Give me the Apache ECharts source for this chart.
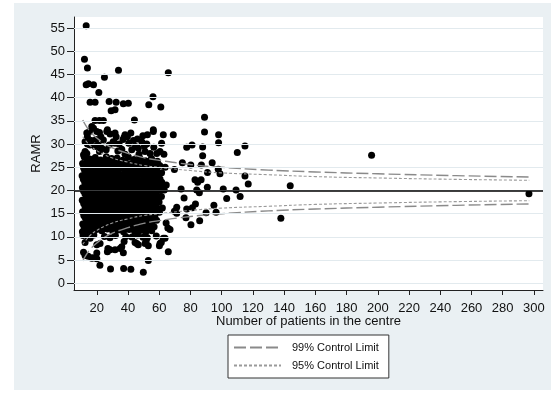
<!DOCTYPE html>
<html><head><meta charset="utf-8">
<script src="https://cdn.jsdelivr.net/npm/echarts@6/dist/echarts.min.js"></script>
<style>html,body{margin:0;padding:0;background:#fff}#c{width:558px;height:396px}</style>
</head><body><div id="c"></div>
<script>
var xTicks = [20,40,60,80,100,120,140,160,180,200,220,240,260,280,300];
var yTicks = [0,5,10,15,20,25,30,35,40,45,50,55];
var target = 20;

var limitN   = [11,13,16,20,25,30,40,50,60,80,100,130,160,200,250,297];
var upper99  = [35.2,34.0,32.6,31.3,30.1,29.2,28.0,27.1,26.5,25.6,25.0,24.4,24.0,23.6,23.2,22.9];
var lower99  = [4.8,6.0,7.4,8.7,9.9,10.8,12.0,12.9,13.5,14.4,15.0,15.6,16.0,16.4,16.8,17.1];
var upper95  = [31.6,30.7,29.6,28.6,27.7,27.0,26.1,25.4,25.0,24.3,23.8,23.4,23.0,22.7,22.4,22.2];
var lower95  = [8.4,9.3,10.4,11.4,12.3,13.0,13.9,14.6,15.0,15.7,16.2,16.6,17.0,17.3,17.6,17.8];

var highCentres = [
 [13.2,55.5],[12.1,48.3],[14.0,46.4],[13.2,42.8],[14.6,43.0],[17.9,42.8],[21.3,41.1],[24.9,44.4],
 [33.9,45.9],[65.8,45.4],[15.7,39.0],[18.9,39.0],[27.9,39.2],[32.4,39.0],[37.0,38.7],[40.2,38.8],
 [29.2,37.2],[31.7,37.4],[56.0,40.2],[53.3,38.5],[61.0,38.0],[44.1,35.2],[18.9,35.1],[21.7,35.1],
 [24.2,35.1],[16.8,33.8],[17.9,33.4],[20.0,32.7],[13.6,32.4],[15.3,32.7],[21.7,32.5],[26.4,32.7],
 [28.5,32.2],[31.7,32.4],[32.4,31.6],[38.1,32.0],[41.8,32.4],[46.0,31.1],[48.8,30.5],[52.4,32.0],
 [56.2,32.7],[52.0,30.0],[62.6,32.0],[26.8,33.1],[14.0,31.6],[22.6,31.6],[39.6,31.6],[37.5,31.5],
 [12.5,30.5],[14.0,30.0],[24.2,30.9],[21.0,29.8],[23.2,29.1],[21.7,28.4],[12.5,28.4],[15.7,29.8],
 [18.9,29.5],[26.0,28.8],[31.7,30.2],[36.0,28.9],[38.1,27.8],[42.4,28.8],[46.6,29.1],[50.9,28.4],
 [54.1,28.0],[58.4,28.0],[60.5,28.4],[30.5,30.5],[34.3,30.0],[36.8,31.0],[40.5,30.2],[43.5,30.8],
 [44.8,29.5],[49.5,31.8],[50.5,29.6],[56.5,29.3],[28.0,29.8],[33.5,28.5],[47.0,27.8],[63.0,27.8],
 [61.5,30.2],[19.5,31.0],[16.5,30.8],[13.6,28.0],[11.5,27.7]
];

var coreCentres = [
 [12.0,27.2],[15.5,26.8],[19.0,27.1],[22.4,26.6],[26.1,27.3],[29.5,26.9],[33.0,27.0],[36.6,26.5],[40.2,27.2],[43.8,26.7],[47.5,27.0],[51.1,26.4],[55.0,26.9],[58.8,26.3],
 [10.9,25.8],[13.8,25.4],[17.3,25.9],[20.8,25.5],[24.2,25.8],[27.9,25.3],[31.4,25.9],[34.8,25.6],[38.3,25.2],[42.0,25.8],[45.6,25.4],[49.3,25.9],[52.8,25.2],[56.5,25.6],[60.3,25.4],[63.8,25.0],
 [12.2,24.3],[15.6,24.7],[19.1,24.2],[22.7,24.6],[26.0,24.1],[29.6,24.5],[33.2,24.3],[36.7,24.8],[40.1,24.0],[43.7,24.5],[47.4,24.2],[51.0,24.7],[54.6,24.1],[58.3,24.4],[61.5,23.8],
 [10.6,23.2],[14.0,22.9],[17.5,23.3],[21.0,22.8],[24.4,23.2],[27.8,23.0],[31.3,23.4],[34.9,22.9],[38.5,23.3],[42.0,22.8],[45.5,23.1],[49.1,23.4],[52.7,22.8],[56.2,23.2],[59.8,22.7],
 [12.3,21.7],[15.8,22.0],[19.2,21.6],[22.6,21.9],[26.2,21.5],[29.7,21.9],[33.1,21.6],[36.5,22.1],[40.3,21.7],[43.8,21.5],[47.3,22.0],[50.8,21.6],[54.4,21.9],[57.9,21.4],[61.6,21.8],[64.5,21.2],
 [10.8,20.6],[14.1,20.3],[17.6,20.7],[21.1,20.2],[24.5,20.6],[28.0,20.4],[31.5,20.8],[35.0,20.3],[38.6,20.6],[42.1,20.2],[45.7,20.7],[49.2,20.4],[52.6,20.8],[56.1,20.3],[59.7,20.6],[63.2,20.1],
 [12.4,19.3],[15.9,18.9],[19.4,19.3],[22.8,19.0],[26.3,19.4],[29.8,18.9],[33.3,19.2],[36.8,19.5],[40.4,18.9],[43.9,19.3],[47.4,19.0],[51.0,19.4],[54.5,18.8],[58.0,19.2],[61.4,18.7],
 [10.7,17.9],[14.2,18.2],[17.7,17.7],[21.2,18.1],[24.6,17.6],[28.1,18.0],[31.6,17.8],[35.1,18.2],[38.7,17.6],[42.2,18.0],[45.8,17.7],[49.3,18.1],[52.8,17.6],[56.3,18.0],[59.9,17.5],
 [12.5,16.5],[16.0,16.8],[19.5,16.4],[23.0,16.9],[26.4,16.5],[29.9,16.7],[33.4,16.3],[36.9,16.8],[40.5,16.4],[44.0,16.7],[47.5,16.3],[51.1,16.8],[54.6,16.4],[58.1,16.6],[62.0,16.2],
 [10.9,15.4],[14.3,15.1],[17.8,15.5],[21.3,15.0],[24.7,15.4],[28.2,15.2],[31.7,15.6],[35.2,15.1],[38.8,15.4],[42.3,15.0],[45.9,15.5],[49.4,15.1],[52.9,15.4],[56.5,15.0],[60.1,15.3],
 [12.6,14.1],[16.1,13.8],[19.6,14.2],[23.1,13.9],[26.6,14.3],[30.0,13.8],[33.5,14.1],[37.0,13.7],[40.6,14.2],[44.1,13.9],[47.6,14.2],[51.2,13.7],[54.7,14.0],[58.3,13.6],
 [11.0,12.8],[14.4,12.5],[17.9,12.9],[21.4,12.4],[24.8,12.8],[28.3,12.6],[31.8,12.9],[35.3,12.4],[38.9,12.7],[42.4,12.3],[46.0,12.8],[49.5,12.5],[53.0,12.7],[56.7,12.2],
 [12.7,11.5],[16.2,11.2],[19.7,11.6],[23.2,11.3],[26.7,11.7],[30.2,11.2],[33.6,11.5],[37.1,11.1],[40.7,11.6],[44.2,11.2],[47.8,11.4],[51.3,11.0],[55.2,11.3],
 [11.2,10.3],[14.6,9.9],[18.1,10.4],[24.9,10.1],[28.4,9.8],[31.9,10.3],[42.5,10.0],[46.1,10.4],[49.6,9.9],[58.1,10.2]
];

var fillCentres = [
 [13.6,26.1],[17.2,26.1],[20.7,26.0],[24.3,26.2],[27.7,26.1],[31.2,26.0],[34.9,26.2],[38.4,26.1],[45.6,26.1],[49.2,26.0],[52.9,26.2],[56.7,26.0],
 [11.5,24.9],[14.8,24.9],[18.3,25.0],[21.9,24.8],[25.3,24.9],[28.8,25.0],[32.3,24.8],[35.9,24.9],[39.3,25.0],[42.9,24.8],[46.4,24.9],[50.1,25.0],[53.7,24.8],[57.4,24.9],
 [13.2,23.6],[16.7,23.7],[20.1,23.5],[23.6,23.6],[27.0,23.7],[30.5,23.5],[34.1,23.6],[37.6,23.7],[41.2,23.5],[44.7,23.6],[48.3,23.7],[51.8,23.5],[55.4,23.6],[58.9,23.7],
 [11.4,22.4],[15.0,22.3],[18.4,22.5],[21.8,22.4],[25.3,22.3],[28.8,22.5],[32.2,22.4],[35.7,22.3],[39.3,22.5],[42.9,22.4],[46.4,22.3],[49.9,22.5],[53.5,22.4],[57.1,22.3],[60.5,22.5],
 [13.1,21.1],[16.6,21.2],[20.1,21.0],[23.6,21.1],[27.1,21.2],[30.6,21.0],[34.0,21.1],[37.5,21.2],[41.2,21.0],[44.7,21.1],[48.2,21.2],[51.7,21.0],[55.2,21.1],[58.8,21.2],[62.3,21.0],
 [11.5,19.9],[15.0,19.8],[18.5,20.0],[22.0,19.9],[25.4,19.8],[28.9,20.0],[32.4,19.9],[35.9,19.8],[39.5,20.0],[43.0,19.9],[46.5,19.8],[50.1,20.0],[53.5,19.9],[57.1,19.8],[60.6,20.0],
 [13.3,18.6],[16.8,18.5],[20.3,18.7],[23.7,18.6],[27.2,18.5],[30.7,18.7],[34.2,18.6],[37.8,18.5],[41.3,18.7],[44.8,18.6],[48.4,18.5],[51.9,18.7],[55.4,18.6],[58.9,18.5],
 [11.6,17.2],[15.1,17.3],[18.6,17.1],[22.1,17.2],[25.5,17.3],[29.0,17.1],[32.5,17.2],[36.0,17.3],[39.6,17.1],[43.1,17.2],[46.6,17.3],[50.2,17.1],[53.7,17.2],[57.2,17.3],
 [13.4,15.9],[16.9,16.0],[20.4,15.8],[23.9,15.9],[27.3,16.0],[30.8,15.8],[34.3,15.9],[37.9,16.0],[41.4,15.8],[44.9,15.9],[48.5,16.0],[52.0,15.8],[55.5,15.9],[59.0,16.0],
 [11.7,14.6],[15.2,14.7],[18.7,14.5],[22.2,14.6],[25.6,14.7],[29.1,14.5],[32.6,14.6],[36.1,14.7],[39.7,14.5],[43.2,14.6],[46.7,14.7],[50.3,14.5],[53.8,14.6],[57.3,14.7],
 [13.5,13.3],[17.0,13.4],[20.5,13.2],[24.0,13.3],[27.4,13.4],[30.9,13.2],[34.4,13.3],[38.0,13.4],[41.5,13.2],[45.0,13.3],[48.6,13.4],[52.1,13.2],[55.6,13.3],
 [11.9,12.0],[15.3,12.1],[18.8,11.9],[22.3,12.0],[25.7,12.1],[29.2,11.9],[32.7,12.0],[36.2,12.1],[39.8,11.9],[43.3,12.0],[46.8,12.1],[50.4,11.9],[53.9,12.0]
];

var lowCentres = [
 [53.0,4.9],[49.8,2.4],[41.8,3.0],[37.2,3.2],[28.8,3.1],[22.0,3.9],[20.0,5.3],[17.5,5.5],[14.5,5.8],
 [12.5,6.0],[11.5,6.7],[26.8,6.8],[27.1,7.5],[37.0,6.6],[34.9,7.5],[46.6,8.3],[44.5,8.8],[53.0,8.1],
 [52.4,9.8],[37.5,9.0],[38.6,10.1],[22.1,8.6],[20.0,8.3],[12.5,8.8],[15.7,9.7],[12.5,10.8],[10.8,11.1],
 [51.6,9.1],[20.0,6.5],[28.5,7.2],[31.7,7.2],[36.0,7.9],[45.6,8.6],[50.9,8.6],[16.8,5.4]
];

var rightCentres = [
 [69.0,32.0],[56.2,33.1],[77.6,29.3],[81.0,29.8],[87.8,29.4],[87.8,27.5],[89.0,35.8],[89.0,32.6],
 [98.0,32.0],[98.0,30.3],[110.0,28.2],[114.9,29.6],[74.8,26.0],[80.2,25.5],[87.0,25.5],[93.9,26.0],
 [90.9,23.9],[97.8,24.6],[98.9,23.6],[114.9,23.1],[117.0,21.4],[82.9,22.3],[84.6,21.8],[86.8,22.3],
 [90.8,20.7],[74.0,20.3],[101.0,20.3],[109.2,20.1],[103.2,18.3],[111.8,18.7],[75.9,18.4],[85.7,19.5],
 [84.0,20.1],[95.0,16.8],[83.2,17.1],[81.2,16.3],[77.6,16.0],[90.0,15.2],[96.4,15.3],[85.9,13.5],
 [80.3,12.6],[77.1,14.1],[71.2,16.4],[71.2,15.1],[69.7,15.5],[66.9,11.6],[65.8,6.8],[62.6,9.7],
 [61.3,8.8],[60.1,8.1],[69.7,24.5],[64.4,13.0],[65.5,11.9],[63.7,9.7],[60.5,8.6],
 [143.9,21.0],[137.9,14.0],[196.0,27.6],[296.8,19.3]
];

var font = 'Liberation Sans, Arial, Helvetica, sans-serif';
var chart = echarts.init(document.getElementById('c'), null, {renderer: 'canvas'});

function pairs(xs, ys) { return xs.map(function (x, i) { return [x, ys[i]]; }); }
var gridLineData = yTicks.map(function (v) { return {yAxis: v}; });

var dot = {type: 'scatter', symbol: 'circle', symbolSize: 7, itemStyle: {color: '#000', opacity: 1}, silent: true, z: 2};
var l99 = {color: '#8a8a8a', width: 1.4, type: [12, 4]};
var l95 = {color: '#9a9a9a', width: 1.1, type: [3, 2]};

chart.setOption({
  animation: false,
  backgroundColor: '#fff',
  textStyle: {fontFamily: font},
  graphic: [{type: 'rect', z: -10, shape: {x: 14, y: 3, width: 537, height: 387}, style: {fill: '#eaf0f3'}}],
  grid: {left: 74, right: 15, top: 17, bottom: 106, show: true, backgroundColor: '#fff', borderWidth: 0},
  legend: {
    data: ['99% Control Limit', '95% Control Limit'],
    orient: 'vertical', left: 228, top: 335,
    itemWidth: 47, itemHeight: 12, itemGap: 7,
    itemStyle: {opacity: 0},
    backgroundColor: '#fff', borderColor: '#333', borderWidth: 1, borderRadius: 0,
    padding: [7, 10, 7, 5],
    textStyle: {fontSize: 11, color: '#111', fontFamily: font, padding: [0, 0, 0, 6]}
  },
  xAxis: {
    type: 'value', min: 5.4, max: 305.8,
    name: 'Number of patients in the centre', nameLocation: 'middle', nameGap: 25,
    nameMoveOverlap: false,
    nameTextStyle: {fontSize: 13, color: '#111', fontFamily: font},
    axisLine: {show: true, onZero: false, lineStyle: {color: '#222', width: 1}},
    axisTick: {show: true, customValues: xTicks, length: 5, lineStyle: {color: '#222'}},
    axisLabel: {customValues: xTicks, fontSize: 13, color: '#111', margin: 12, fontFamily: font},
    splitLine: {show: false}
  },
  yAxis: {
    type: 'value', min: -1.45, max: 57.4,
    name: 'RAMR', nameLocation: 'middle', nameGap: 31,
    nameMoveOverlap: false,
    nameTextStyle: {fontSize: 13, color: '#111', fontFamily: font},
    axisLine: {show: true, onZero: false, lineStyle: {color: '#222', width: 1}},
    axisTick: {show: true, customValues: yTicks, length: 7, lineStyle: {color: '#222'}},
    axisLabel: {customValues: yTicks, fontSize: 13, color: '#111', margin: 9, fontFamily: font},
    splitLine: {show: false}
  },
  series: [
    {type: 'line', data: [], silent: true, z: 1,
     markLine: {silent: true, symbol: 'none', label: {show: false},
       lineStyle: {color: '#e2eaee', width: 1, type: 'solid'}, data: gridLineData}},
    Object.assign({data: highCentres}, dot),
    Object.assign({data: coreCentres}, dot),
    Object.assign({data: fillCentres}, dot),
    Object.assign({data: lowCentres}, dot),
    Object.assign({data: rightCentres}, dot),
    {name: '99% Control Limit', type: 'line', smooth: true, symbol: 'none', silent: true, z: 4,
     lineStyle: l99, data: pairs(limitN, upper99),
     markLine: {silent: true, symbol: 'none', label: {show: false},
       lineStyle: {color: '#000', width: 1.6, type: 'solid'}, data: [{yAxis: target}]}},
    {name: '99% Control Limit', type: 'line', smooth: true, symbol: 'none', silent: true, z: 4,
     lineStyle: l99, data: pairs(limitN, lower99)},
    {name: '95% Control Limit', type: 'line', smooth: true, symbol: 'none', silent: true, z: 4,
     lineStyle: l95, data: pairs(limitN, upper95)},
    {name: '95% Control Limit', type: 'line', smooth: true, symbol: 'none', silent: true, z: 4,
     lineStyle: l95, data: pairs(limitN, lower95)}
  ]
});
</script></body></html>
